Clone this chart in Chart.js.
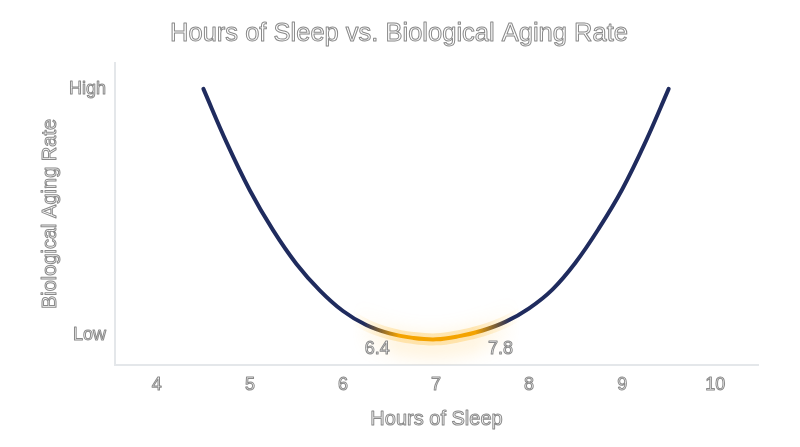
<!DOCTYPE html>
<html>
<head>
<meta charset="utf-8">
<title>Hours of Sleep vs. Biological Aging Rate</title>
<script src="https://cdn.jsdelivr.net/npm/chart.js@4.4.1/dist/chart.umd.min.js"></script>
<style>
  html, body { margin: 0; padding: 0; background: #fff; }
  #wrap { width: 800px; height: 447px; }
</style>
</head>
<body>
<div id="wrap"><canvas id="sleepChart" width="800" height="447"></canvas></div>
<script>
// Hours of Sleep vs. Biological Aging Rate - U-shaped curve with highlighted sweet spot

const chartTitle = 'Hours of Sleep vs. Biological Aging Rate';
const xTitle = 'Hours of Sleep';
const yTitle = 'Biological Aging Rate';

// curve samples (0 = Low, 10 = High)
const sleepHours = [4.5, 4.75, 5, 5.25, 5.5, 5.75, 6, 6.25, 6.5, 6.75, 7, 7.25, 7.5, 7.75, 8, 8.25, 8.5, 8.75, 9, 9.25, 9.5];
const agingRate = [10.0, 7.82, 5.88, 4.26, 2.90, 1.83, 0.99, 0.42, 0.08, -0.10, -0.16, -0.03, 0.20, 0.56, 1.10, 1.86, 2.96, 4.34, 5.92, 7.84, 10.0];

const xTicks = [4, 5, 6, 7, 8, 9, 10];
const yTickValues = [0, 10];
const yTickLabels = ['Low', 'High'];

// optimal sleep window labels
const sweetSpot = [6.4, 7.8];

const FONT = "'Liberation Sans', Arial, sans-serif";
const OUTLINE = '#8a8a8a';
const NAVY = '#1f2b5e';
const AMBER = '#f4a300';

const curvePoints = sleepHours.map((h, i) => ({ x: h, y: agingRate[i] }));
const glowPoints = curvePoints.filter(p => p.x >= 6 && p.x <= 8);

// horizontal gradient helper, stops given in hours
function hoursGradient(chart, stops) {
  const xs = chart.scales.x;
  const area = chart.chartArea;
  const g = chart.ctx.createLinearGradient(area.left, 0, area.right, 0);
  stops.forEach(([h, c]) => {
    const f = (xs.getPixelForValue(h) - area.left) / (area.right - area.left);
    g.addColorStop(Math.min(1, Math.max(0, f)), c);
  });
  return g;
}

function outlineText(ctx, text, x, y, size, opts = {}) {
  ctx.save();
  ctx.translate(x, y);
  if (opts.rotate) ctx.rotate(opts.rotate);
  ctx.font = size + 'px ' + FONT;
  ctx.textAlign = opts.align || 'center';
  ctx.textBaseline = opts.baseline || 'alphabetic';
  ctx.lineJoin = 'round';
  ctx.fillStyle = '#fff';
  ctx.fillText(text, 0, 0);
  ctx.lineWidth = 1;
  ctx.strokeStyle = OUTLINE;
  ctx.strokeText(text, 0, 0);
  ctx.restore();
}

// soft amber glow under the sweet spot
const glowPlugin = {
  id: 'glow',
  beforeDatasetDraw(chart, args) {
    if (args.meta.label !== 'glow') return;
    const ctx = chart.ctx;
    ctx.save();
    ctx.shadowColor = 'rgba(255, 180, 30, 1)';
    ctx.shadowBlur = 22;
    ctx.shadowOffsetY = 7;
  },
  afterDatasetDraw(chart, args) {
    if (args.meta.label !== 'glow') return;
    chart.ctx.restore();
  }
};

// titles and labels with the hollow outlined look
const outlinePlugin = {
  id: 'outlineLabels',
  afterDraw(chart) {
    const ctx = chart.ctx;
    const area = chart.chartArea;
    const xs = chart.scales.x;
    const ys = chart.scales.y;
    outlineText(ctx, chartTitle, chart.width / 2 - 1, 41, 25.5);
    outlineText(ctx, xTitle, (area.left + area.right) / 2, 425, 20);
    outlineText(ctx, yTitle, 56, (area.top + area.bottom) / 2, 20, { rotate: -Math.PI / 2 });
    xTicks.forEach(v => {
      outlineText(ctx, String(v), xs.getPixelForValue(v), area.bottom + 20, 18, { baseline: 'middle' });
    });
    yTickValues.forEach((v, i) => {
      outlineText(ctx, yTickLabels[i], area.left - 9, ys.getPixelForValue(v), 18, { align: 'right', baseline: 'middle' });
    });
    const nudge = [-3, -10];
    sweetSpot.forEach((v, i) => {
      outlineText(ctx, String(v), xs.getPixelForValue(v) + nudge[i], ys.getPixelForValue(0) + 14, 18, { baseline: 'middle' });
    });
  }
};

const tickFont = { family: FONT, size: 18 };

new Chart(document.getElementById('sleepChart'), {
  type: 'line',
  data: {
    datasets: [
      {
        label: 'aging',
        data: curvePoints,
        borderColor: (c) => {
          if (!c.chart.chartArea) return NAVY;
          return hoursGradient(c.chart, [[6.22, NAVY], [6.6, AMBER], [7.42, AMBER], [7.8, NAVY]]);
        },
        borderWidth: 4,
        borderCapStyle: 'round',
        pointRadius: 0,
        tension: 0.4,
        fill: false
      },
      {
        label: 'glow',
        data: glowPoints,
        borderColor: (c) => {
          if (!c.chart.chartArea) return 'transparent';
          return hoursGradient(c.chart, [[6.1, 'rgba(255,185,40,0)'], [6.6, 'rgba(255,185,40,0.3)'],
            [7.4, 'rgba(255,185,40,0.3)'], [7.9, 'rgba(255,185,40,0)']]);
        },
        borderWidth: 12,
        pointRadius: 0,
        tension: 0.4,
        fill: false
      }
    ]
  },
  options: {
    responsive: false,
    animation: false,
    devicePixelRatio: 1,
    layout: { padding: { top: 63, right: 42, bottom: 0, left: 0 } },
    plugins: {
      legend: { display: false },
      tooltip: { enabled: false },
      title: { display: false }
    },
    scales: {
      x: {
        type: 'linear',
        min: 3.55,
        max: 10.46,
        afterFit: (s) => { s.height = 82; },
        afterBuildTicks: (s) => { s.ticks = xTicks.map(v => ({ value: v })); },
        grid: { display: false, drawTicks: false },
        border: { display: true, color: '#e4e7ea', width: 2 },
        // labels are drawn outlined by the plugin
        ticks: { padding: 10, font: tickFont, color: 'rgba(0,0,0,0)', maxRotation: 0 }
      },
      y: {
        type: 'linear',
        min: -1.2,
        max: 11.05,
        afterFit: (s) => { s.width = 115; },
        afterBuildTicks: (s) => { s.ticks = yTickValues.map(v => ({ value: v })); },
        grid: { display: false, drawTicks: false },
        border: { display: true, color: '#e4e7ea', width: 2 },
        ticks: {
          padding: 9,
          font: tickFont,
          color: 'rgba(0,0,0,0)',
          callback: (v) => {
            const i = yTickValues.indexOf(v);
            return i >= 0 ? yTickLabels[i] : '';
          }
        }
      }
    }
  },
  plugins: [glowPlugin, outlinePlugin]
});
</script>
</body>
</html>
